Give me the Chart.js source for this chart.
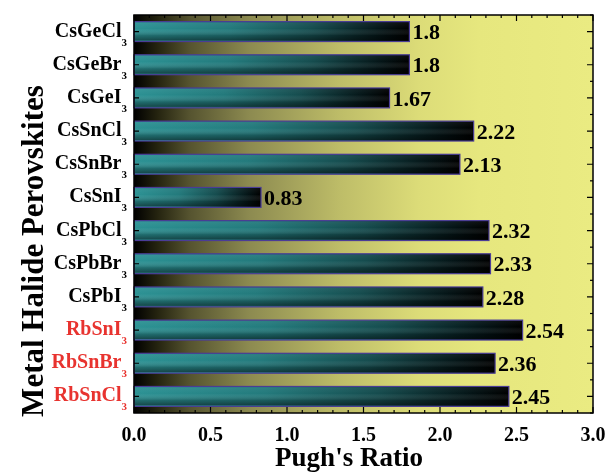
<!DOCTYPE html>
<html>
<head>
<meta charset="utf-8">
<script src="https://cdn.jsdelivr.net/npm/chart.js@4.4.1/dist/chart.umd.min.js"></script>
<style>
  html, body { margin: 0; padding: 0; background: #ffffff; }
  #wrap { width: 606px; height: 475px; position: relative; }
</style>
</head>
<body>
<div id="wrap"><canvas id="c" width="606" height="475"></canvas></div>
<script>
// ---- data ----
const compounds = ['CsGeCl', 'CsGeBr', 'CsGeI', 'CsSnCl', 'CsSnBr', 'CsSnI',
                   'CsPbCl', 'CsPbBr', 'CsPbI', 'RbSnI', 'RbSnBr', 'RbSnCl'];
const subscripts = ['3', '3', '3', '3', '3', '3', '3', '3', '3', '3', '3', '3'];
const pughRatio = [1.8, 1.8, 1.67, 2.22, 2.13, 0.83, 2.32, 2.33, 2.28, 2.54, 2.36, 2.45];
const valueLabels = ['1.8', '1.8', '1.67', '2.22', '2.13', '0.83', '2.32', '2.33', '2.28', '2.54', '2.36', '2.45'];
const xTickValues = [0.0, 0.5, 1.0, 1.5, 2.0, 2.5, 3.0];
const xTitle = "Pugh's Ratio";
const yTitle = 'Metal Halide Perovskites';

const SERIF = '"Liberation Serif", "Times New Roman", serif';

function barFill(ctx) {
  const chart = ctx.chart;
  const area = chart.chartArea;
  if (!area || ctx.parsed === undefined) return '#2b8e90';
  const xs = chart.scales.x;
  const x0 = xs.getPixelForValue(0);
  const x1 = xs.getPixelForValue(ctx.parsed.x);
  const g = chart.ctx.createLinearGradient(x0, 0, x1, 0);
  g.addColorStop(0, '#2c9294');
  g.addColorStop(0.35, '#237a7c');
  g.addColorStop(0.65, '#154c4e');
  g.addColorStop(0.9, '#041416');
  g.addColorStop(1, '#000000');
  return g;
}

const backgroundPlugin = {
  id: 'bg',
  beforeDatasetsDraw(chart) {
    const { ctx, chartArea: a } = chart;
    const g = ctx.createLinearGradient(a.left, 0, a.right, 0);
    g.addColorStop(0, '#000000');
    g.addColorStop(0.05, '#24230f');
    g.addColorStop(0.12, '#55532f');
    g.addColorStop(0.25, '#8c8a50');
    g.addColorStop(0.45, '#bebd68');
    g.addColorStop(0.62, '#dcdc78');
    g.addColorStop(0.75, '#e6e77e');
    g.addColorStop(1, '#eaeb82');
    ctx.save();
    ctx.fillStyle = g;
    ctx.fillRect(a.left, a.top, a.right - a.left, a.bottom - a.top);
    ctx.restore();
  }
};

const decorPlugin = {
  id: 'decor',
  afterDatasetsDraw(chart) {
    const { ctx, chartArea: a } = chart;
    const xs = chart.scales.x, ys = chart.scales.y;
    const meta = chart.getDatasetMeta(0);
    ctx.save();
    // vertical shading on bars
    meta.data.forEach((bar) => {
      const p = bar.getProps(['x', 'y', 'base', 'height'], true);
      const top = p.y - p.height / 2, bot = p.y + p.height / 2;
      const left = Math.min(p.base, p.x), right = Math.max(p.base, p.x);
      const g = ctx.createLinearGradient(0, top, 0, bot);
      g.addColorStop(0, 'rgba(255,255,255,0.06)');
      g.addColorStop(0.35, 'rgba(255,255,255,0.0)');
      g.addColorStop(0.7, 'rgba(0,0,0,0.25)');
      g.addColorStop(1, 'rgba(0,0,0,0.55)');
      ctx.fillStyle = g;
      ctx.fillRect(left + 1, top + 1, right - left - 2, bot - top - 2);
      ctx.strokeStyle = '#4a3c96';
      ctx.lineWidth = 1.2;
      ctx.strokeRect(left, top, right - left, bot - top);
    });
    // value labels
    ctx.fillStyle = '#000';
    ctx.font = 'bold 22px ' + SERIF;
    ctx.textBaseline = 'middle';
    ctx.textAlign = 'left';
    meta.data.forEach((bar, i) => {
      ctx.fillText(valueLabels[i], bar.x + 3, bar.y + 2);
    });

    // frame
    ctx.strokeStyle = '#000';
    ctx.lineWidth = 1.5;
    ctx.strokeRect(a.left, a.top, a.right - a.left, a.bottom - a.top);

    // x ticks (inside), top and bottom
    ctx.lineWidth = 1.2;
    for (let k = 0; k <= 30; k++) {
      const v = k / 10;
      const px = xs.getPixelForValue(v);
      const len = (k % 5 === 0) ? 6 : 3;
      ctx.beginPath();
      ctx.moveTo(px, a.bottom); ctx.lineTo(px, a.bottom - len);
      ctx.moveTo(px, a.top); ctx.lineTo(px, a.top + len);
      ctx.stroke();
    }
    // y ticks
    const n = compounds.length;
    for (let i = 0; i < n; i++) {
      const py = ys.getPixelForValue(i);
      ctx.beginPath();
      ctx.moveTo(a.left, py); ctx.lineTo(a.left + 5, py);
      ctx.moveTo(a.right, py); ctx.lineTo(a.right - 6, py);
      ctx.stroke();
    }
    for (let i = 0; i <= n; i++) {
      const py = ys.getPixelForValue(i - 0.5);
      ctx.beginPath();
      ctx.moveTo(a.right, py); ctx.lineTo(a.right - 3, py);
      ctx.stroke();
    }

    // category labels with subscripts
    ctx.textBaseline = 'alphabetic';
    for (let i = 0; i < n; i++) {
      const py = ys.getPixelForValue(i);
      const color = compounds[i].startsWith('Rb') ? '#e8332f' : '#000000';
      ctx.fillStyle = color;
      ctx.font = 'bold 11px ' + SERIF;
      const subW = ctx.measureText(subscripts[i]).width;
      ctx.textAlign = 'right';
      const rightX = a.left - 7;
      ctx.fillText(subscripts[i], rightX, py + 14);
      ctx.font = 'bold 20px ' + SERIF;
      ctx.fillText(compounds[i], rightX - subW, py + 5);
    }

    // titles
    ctx.fillStyle = '#000';
    ctx.font = 'bold 27px ' + SERIF;
    ctx.textAlign = 'center';
    ctx.fillText(xTitle, 349, 466);
    ctx.save();
    ctx.translate(43, 251);
    ctx.rotate(-Math.PI / 2);
    ctx.font = 'bold 31px ' + SERIF;
    ctx.fillText(yTitle, 0, 0);
    ctx.restore();

    ctx.restore();
  }
};

new Chart(document.getElementById('c'), {
  type: 'bar',
  data: {
    labels: compounds.map((c, i) => c + subscripts[i]),
    datasets: [{
      data: pughRatio,
      backgroundColor: barFill,
      borderWidth: 0,
      barPercentage: 0.6,
      categoryPercentage: 1.0
    }]
  },
  options: {
    indexAxis: 'y',
    responsive: false,
    animation: false,
    devicePixelRatio: 1,
    layout: { padding: { top: 15, right: 13, left: 0, bottom: 0 } },
    plugins: { legend: { display: false }, tooltip: { enabled: false } },
    scales: {
      x: {
        type: 'linear',
        min: 0, max: 3,
        afterBuildTicks: (s) => { s.ticks = xTickValues.map(v => ({ value: v })); },
        afterFit: (s) => { s.height = 62; s.paddingLeft = 0; s.paddingRight = 0; },
        grid: { display: false, drawTicks: false },
        border: { display: false },
        ticks: {
          padding: 11,
          color: '#000',
          font: { family: SERIF, size: 20, weight: 'bold' },
          callback: (v) => Number(v).toFixed(1)
        }
      },
      y: {
        type: 'category',
        afterFit: (s) => { s.width = 134; s.paddingTop = 0; s.paddingBottom = 0; },
        grid: { display: false, drawTicks: false },
        border: { display: false },
        ticks: { display: false }
      }
    }
  },
  plugins: [backgroundPlugin, decorPlugin]
});
</script>
</body>
</html>
